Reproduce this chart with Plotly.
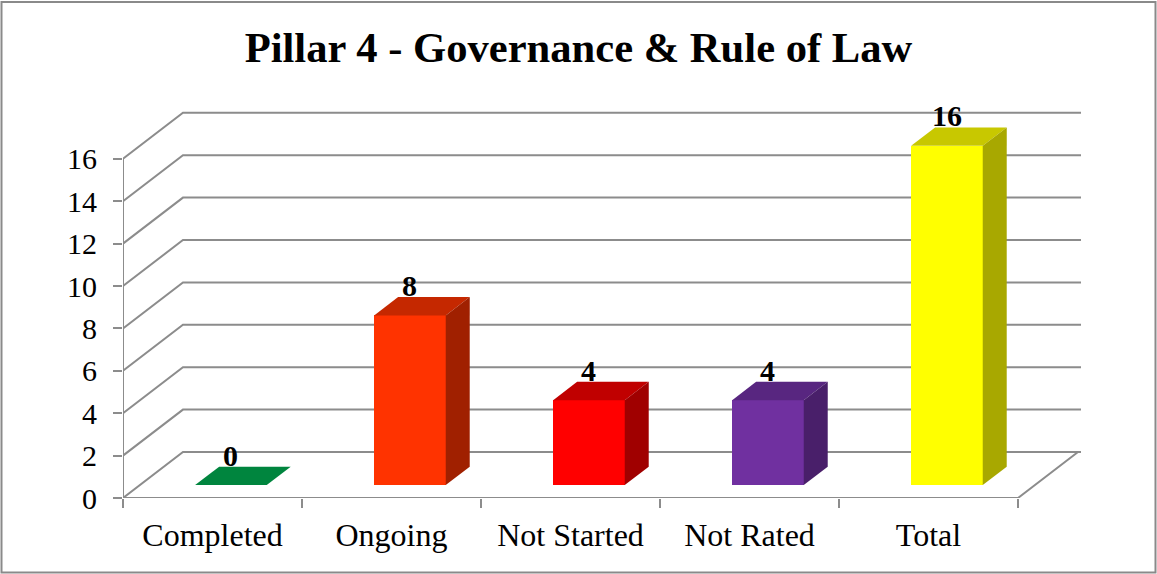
import plotly.graph_objects as go

# ---- data ----
categories = ["Completed", "Ongoing", "Not Started", "Not Rated", "Total"]
values = [0, 8, 4, 4, 16]
front_colors = ["#00A651", "#FF3300", "#FF0000", "#7030A0", "#FFFF00"]
top_colors = ["#00853E", "#C52800", "#C00000", "#582680", "#C8C800"]
side_colors = ["#006B32", "#A02000", "#A00000", "#491F6A", "#A8A800"]
y_ticks = [0, 2, 4, 6, 8, 10, 12, 14, 16]
title_text = "Pillar 4 - Governance & Rule of Law"

# ---- 3D geometry (in axis units) ----
DX, DY = 0.335, 2.17          # full depth of the floor / walls
OFF, B0 = 0.103, 0.61         # bar front face shift (x) and base lift (y)
DDX, DDY = 0.134, 0.868       # bar depth
BW = 0.40                     # bar width
XMIN, XMAX = -0.5, -0.5 + 958 / 179
YMAX = 398 / 21.2
GRID = "#8C8C8C"
FONT = "Liberation Serif"

fig = go.Figure()

# front faces
fig.add_trace(go.Bar(
    x=[i + OFF for i in range(len(categories))], y=values, base=[B0] * len(values),
    width=BW, marker=dict(color=front_colors, line=dict(width=0)),
    hoverinfo="skip", showlegend=False))

# top & side faces
for i, (v, tc, sc) in enumerate(zip(values, top_colors, side_colors)):
    x0, x1 = i + OFF - BW / 2, i + OFF + BW / 2
    yt = v + B0
    fig.add_trace(go.Scatter(
        x=[x0, x1, x1 + DDX, x0 + DDX, x0], y=[yt, yt, yt + DDY, yt + DDY, yt],
        fill="toself", fillcolor=tc, mode="lines", line=dict(width=0, color=tc),
        hoverinfo="skip", showlegend=False))
    if v > 0:
        fig.add_trace(go.Scatter(
            x=[x1, x1 + DDX, x1 + DDX, x1, x1], y=[B0, B0 + DDY, yt + DDY, yt, B0],
            fill="toself", fillcolor=sc, mode="lines", line=dict(width=0, color=sc),
            hoverinfo="skip", showlegend=False))
    fig.add_annotation(x=i + OFF, y=yt + DDY, text=f"<b>{v}</b>", showarrow=False,
                       yanchor="bottom", yshift=-7,
                       font=dict(family=FONT, size=30, color="black"))

# invisible trace for the boundary-tick axis
fig.add_trace(go.Scatter(x=[0], y=[0], xaxis="x2", mode="markers",
                         marker=dict(opacity=0), hoverinfo="skip", showlegend=False))

shapes = []
for v in y_ticks:
    shapes.append(dict(type="path", xref="x", yref="y", layer="below",
                       path=f"M {XMIN},{v} L {XMIN + DX},{v + DY} L {XMAX},{v + DY}",
                       line=dict(color=GRID, width=2)))
n = len(categories)
shapes.append(dict(type="path", xref="x", yref="y", layer="below",
                   path=f"M {XMIN},0 L {n - 0.5},0 L {n - 0.5 + DX},{DY}",
                   line=dict(color=GRID, width=2)))
shapes.append(dict(type="line", xref="x", yref="y", layer="below",
                   x0=XMIN, x1=XMIN, y0=0, y1=y_ticks[-1],
                   line=dict(color=GRID, width=2)))
# outer border
shapes.append(dict(type="rect", xref="paper", yref="paper",
                   x0=(1.5 - 123) / 958, x1=(1155.5 - 123) / 958,
                   y0=(498 - 572.5) / 398, y1=(498 - 2) / 398,
                   line=dict(color="#8A8A8A", width=2), fillcolor="rgba(0,0,0,0)"))

fig.update_layout(
    width=1157, height=574, autosize=False,
    margin=dict(l=123, r=76, t=100, b=76),
    paper_bgcolor="white", plot_bgcolor="white",
    title=dict(text=f"<b>{title_text}</b>", x=0.5, xref="container", xanchor="center",
               y=1 - 47 / 574, yref="container", yanchor="middle",
               font=dict(family=FONT, size=42.6, color="black")),
    shapes=shapes,
    bargap=0,
    xaxis=dict(range=[XMIN, XMAX], tickvals=list(range(n)), ticktext=categories,
               showgrid=False, zeroline=False, showline=False, ticks="",
               tickfont=dict(family=FONT, size=32, color="black"),
               ticklabelstandoff=15),
    xaxis2=dict(range=[XMIN, XMAX], overlaying="x", anchor="y", side="bottom",
                tickvals=[i - 0.5 for i in range(n + 1)], ticks="outside", ticklen=9,
                tickwidth=2, tickcolor=GRID, showticklabels=False,
                showgrid=False, zeroline=False, showline=False),
    yaxis=dict(range=[0, YMAX], tickvals=y_ticks, ticks="outside", ticklen=9,
               tickwidth=2, tickcolor=GRID, showgrid=False, zeroline=False,
               showline=False, ticklabelstandoff=10,
               tickfont=dict(family=FONT, size=30, color="black")),
)

fig.write_html("out.html", config={"displayModeBar": False},
               post_script="document.body.style.margin='0';")
